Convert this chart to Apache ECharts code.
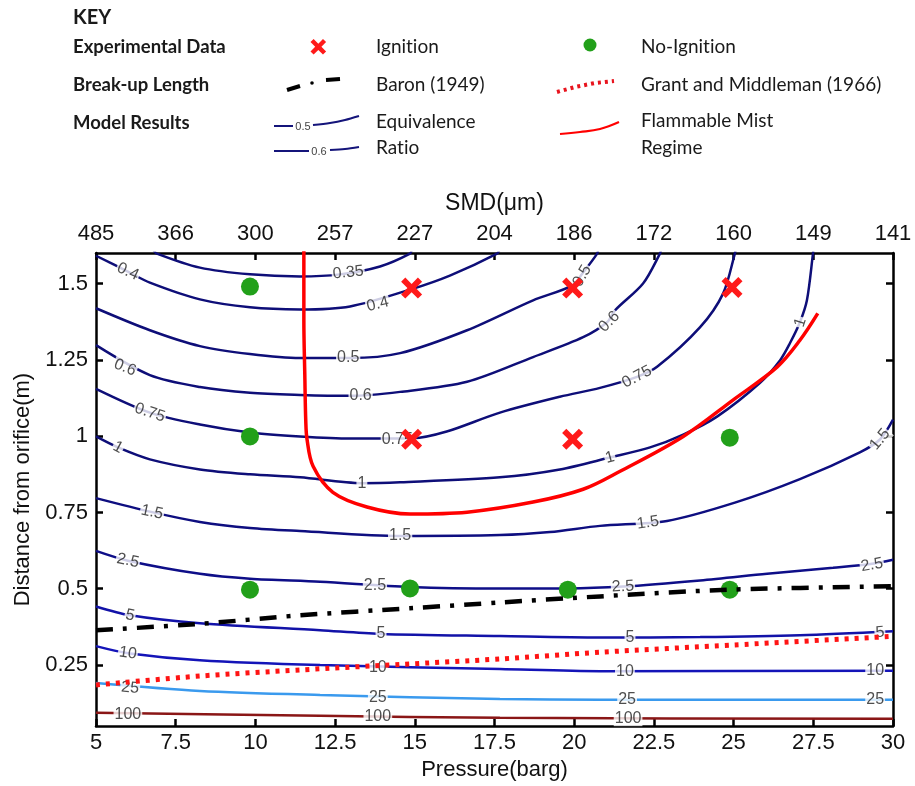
<!DOCTYPE html>
<html>
<head>
<meta charset="utf-8">
<script src="https://cdn.jsdelivr.net/npm/echarts@6/dist/echarts.min.js"></script>
<style>
html,body{margin:0;padding:0;background:#fff;}
#chart{width:915px;height:786px;}
</style>
</head>
<body>
<div id="chart"></div>
<script>
// ---------- DATA ----------
const smdLabels = ['485','366','300','257','227','204','186','172','160','149','141'];
const yTicks = [0.25, 0.5, 0.75, 1, 1.25, 1.5];

// Experimental data
const ignitionP = [14.9, 19.95, 24.95, 14.9, 19.95];
const ignitionD = [1.485, 1.485, 1.487, 0.99, 0.99];
const noIgnitionP = [9.83, 9.83, 24.88, 9.83, 14.85, 19.8, 24.88];
const noIgnitionD = [1.49, 0.999, 0.995, 0.497, 0.501, 0.497, 0.497];

// Break-up length curves
const baronP = [5, 8.26, 11.4, 14.85, 17.67, 20.81, 24.88, 30];
const baronD = [0.364, 0.385, 0.413, 0.436, 0.455, 0.475, 0.497, 0.508];
const grantP = [5, 8.26, 11.4, 14.54, 17.67, 20.81, 25.04, 30];
const grantD = [0.185, 0.214, 0.234, 0.252, 0.270, 0.292, 0.316, 0.344];

// Flammable mist regime boundary
const mistP = [11.52, 11.52, 11.55, 11.58, 11.62, 11.81, 12.43, 13.5, 14.85, 16.64, 18.71, 20.28, 21.44, 23.42, 24.99, 26.37, 27.08, 27.64];
const mistD = [1.61, 1.38, 1.2, 1.05, 0.989, 0.901, 0.816, 0.768, 0.745, 0.751, 0.784, 0.826, 0.885, 0.999, 1.119, 1.227, 1.314, 1.402];

// Equivalence ratio contours [pressure, distance]
const lvl0_35 = [[6.8,1.61],[6.91,1.598],[8.26,1.552],[9.83,1.530],[11.4,1.523],[12.65,1.530],[13.91,1.556],[14.85,1.598],[14.9,1.61]];
const lvl0_4 = [[5,1.591],[6.0,1.539],[6.69,1.503],[8.26,1.448],[9.83,1.422],[11.4,1.415],[12.97,1.425],[14.91,1.482],[16.1,1.526],[17.58,1.598],[17.65,1.61]];
const lvl0_5 = [[5,1.419],[6.69,1.347],[8.26,1.295],[9.83,1.269],[11.4,1.256],[12.97,1.256],[14.54,1.272],[16.64,1.347],[18.71,1.445],[19.93,1.493],[20.28,1.536],[20.72,1.598],[20.75,1.61]];
const lvl0_6 = [[5,1.298],[6.69,1.2],[8.26,1.161],[9.83,1.142],[11.4,1.135],[12.97,1.132],[14.54,1.145],[16.64,1.178],[18.71,1.259],[20.28,1.324],[21.03,1.373],[21.28,1.412],[22.16,1.5],[22.69,1.598],[22.72,1.61]];
const lvl0_75 = [[5,1.155],[6.69,1.077],[8.26,1.038],[9.83,1.012],[11.4,0.999],[12.97,0.992],[14.94,0.993],[16.0,1.015],[17.67,1.077],[19.55,1.129],[20.81,1.158],[21.97,1.194],[22.6,1.227],[23.95,1.357],[24.67,1.467],[25.04,1.598],[25.06,1.61]];
const lvl1 = [[5,0.999],[5.69,0.963],[6.69,0.924],[8.26,0.891],[9.83,0.875],[11.4,0.865],[13.34,0.846],[14.54,0.849],[17.67,0.865],[19.55,0.891],[21.12,0.93],[22.38,0.963],[23.42,1.005],[24.48,1.064],[25.83,1.175],[26.46,1.249],[26.77,1.305],[27.08,1.373],[27.3,1.445],[27.49,1.598],[27.5,1.61]];
const lvl1_5 = [[5,0.797],[6.76,0.751],[8.26,0.719],[9.83,0.699],[11.4,0.689],[14.54,0.673],[17.67,0.676],[19.24,0.686],[20.81,0.706],[22.91,0.722],[25.04,0.782],[27.08,0.859],[28.96,0.947],[29.59,0.989],[30,1.054]];
const lvl2_5 = [[5,0.624],[6.0,0.592],[8.26,0.549],[9.83,0.533],[12.03,0.523],[14.85,0.506],[17.67,0.501],[19.8,0.501],[21.53,0.507],[23.95,0.527],[26.05,0.549],[28.12,0.569],[29.34,0.582],[30,0.595]];
const lvl5 = [[5,0.442],[6.07,0.413],[8.26,0.387],[12.03,0.364],[13.91,0.352],[17.67,0.345],[20.81,0.34],[23.95,0.342],[27.08,0.348],[30,0.361]];
const lvl10 = [[5,0.312],[6.0,0.289],[8.26,0.266],[12.03,0.25],[17.67,0.237],[20.81,0.23],[30,0.231]];
const lvl25 = [[5,0.191],[8.26,0.165],[12.03,0.152],[17.67,0.139],[20.81,0.136],[30,0.136]];
const lvl100 = [[5,0.094],[12.03,0.084],[17.67,0.077],[30,0.074]];

// Contour labels [pressure, distance, rotation]
const lab0_35 = [[12.91,1.536,6]];
const lab0_4 = [[6.0,1.539,-25],[13.84,1.432,14]];
const lab0_5 = [[20.25,1.525,60],[12.91,1.256,0]];
const lab0_6 = [[5.91,1.225,-22],[13.3,1.132,0],[21.1,1.375,45]];
const lab0_75 = [[6.69,1.077,-18],[14.45,0.99,0],[21.97,1.194,28]];
const lab1 = [[5.69,0.963,-28],[13.34,0.846,0],[21.12,0.93,15],[27.1,1.373,72]];
const lab1_5 = [[6.76,0.751,-12],[14.54,0.673,0],[22.31,0.716,8],[29.59,0.989,50]];
const lab2_5 = [[6.0,0.592,-12],[13.75,0.51,0],[21.53,0.507,3],[29.34,0.578,10]];
const lab5 = [[6.07,0.413,-12],[13.94,0.352,0],[21.75,0.341,0],[29.59,0.357,5]];
const lab10 = [[6.0,0.289,-8],[13.84,0.243,0],[21.59,0.23,0],[29.44,0.231,0]];
const lab25 = [[6.07,0.175,-5],[13.84,0.145,0],[21.66,0.136,0],[29.44,0.136,0]];
const lab100 = [[6.0,0.087,0],[13.84,0.080,0],[21.69,0.076,0]];

const levelNames = ['0.35','0.4','0.5','0.6','0.75','1','1.5','2.5','5','10','25','100'];
const levelLines = [lvl0_35,lvl0_4,lvl0_5,lvl0_6,lvl0_75,lvl1,lvl1_5,lvl2_5,lvl5,lvl10,lvl25,lvl100];
const levelLabels = [lab0_35,lab0_4,lab0_5,lab0_6,lab0_75,lab1,lab1_5,lab2_5,lab5,lab10,lab25,lab100];
const levelColors = ['#0e0e78','#0e0e78','#0e0e78','#0e0e78','#0e0e78','#0e0e78','#0e0e80','#0e0e88','#1212a8','#1414b8','#3a9aee','#8a1616'];

// ---------- CHART ----------
const chart = echarts.init(document.getElementById('chart'), null, {renderer:'canvas'});
const axisFont = 'Liberation Sans, Arial, sans-serif';
const xCross = 'path://M0,4 L4,0 L10,6 L16,0 L20,4 L14,10 L20,16 L16,20 L10,14 L4,20 L0,16 L6,10 Z';
const crossPts = [[0,4],[4,0],[10,6],[16,0],[20,4],[14,10],[20,16],[16,20],[10,14],[4,20],[0,16],[6,10]];

const series = [];
levelLines.forEach((pts, i) => {
  series.push({
    type:'line', data: pts, showSymbol:false, symbol:'none', smooth:0.3,
    lineStyle:{color:levelColors[i], width:2.5}, silent:true, z:2, animation:false
  });
});
levelLabels.forEach((labs, i) => {
  series.push({
    type:'scatter', symbolSize:1, itemStyle:{color:'rgba(0,0,0,0)'}, silent:true, z:3,
    data: labs.map(l => ({
      value:[l[0], l[1]],
      label:{show:true, position:'inside', formatter: levelNames[i], rotate:l[2],
        color:'#222', fontFamily:axisFont, fontSize:16, backgroundColor:'#fff', padding:[0,1],
        textBorderWidth:0, textBorderColor:'transparent', textShadowBlur:0}
    }))
  });
});
series.push({
  type:'line', data: mistP.map((p,i)=>[p, mistD[i]]), showSymbol:false, symbol:'none', smooth:0.35,
  lineStyle:{color:'#ff0000', width:3.5}, z:4, silent:true
});
series.push({
  type:'scatter', data: ignitionP.map((p,i)=>[p, ignitionD[i]]), symbol:xCross, symbolSize:21,
  itemStyle:{color:'#ff1a1a', opacity:1}, z:6, silent:true
});
series.push({
  type:'scatter', data: noIgnitionP.map((p,i)=>[p, noIgnitionD[i]]), symbol:'circle', symbolSize:18,
  itemStyle:{color:'#22a01a', opacity:1}, z:6, silent:true
});
series.push({
  type:'line', data: grantP.map((p,i)=>[p, grantD[i]]), showSymbol:false, symbol:'none', smooth:0.3,
  lineStyle:{color:'#ff1414', width:5, type:[4,6], cap:'butt'}, z:5, silent:true
});
series.push({
  type:'line', data: baronP.map((p,i)=>[p, baronD[i]]), showSymbol:false, symbol:'none', smooth:0.3,
  lineStyle:{color:'#000', width:4.5, type:[17,10,4,10], cap:'butt'}, z:7, silent:true
});

const keyFont = 'Lato, "Open Sans", sans-serif';
function txt(x, y, s, bold, size){
  return {type:'text', x:x, y:y, silent:true,
    style:{text:s, fill:'#1a1a1a', font:(bold?'bold ':'')+(size||19)+'px '+keyFont, verticalAlign:'middle', align:'left'}};
}
const ZW = '\u200C';
const graphic = [
  txt(73, 18, 'KEY', true, 20),
  txt(73, 47, 'Experimental Data', true, 18.5),
  txt(73, 85, 'Break-up Length', true, 18.5),
  txt(73, 123, 'Model Results', true, 18.5),
  txt(376, 47, 'Ignit'+ZW+'ion'),
  txt(641, 47, 'No-Ignit'+ZW+'ion'),
  txt(376, 85, 'Baron (1949)'),
  txt(641, 85, 'Grant and Middleman (1966)'),
  txt(376, 122, 'Equivalence'),
  txt(376, 148, 'Rat'+ZW+'io'),
  txt(641, 121, 'Flammable Mist'),
  txt(641, 148, 'Regime'),
  {type:'polygon', silent:true, shape:{points: crossPts.map(p => [310.5 + p[0]*0.78, 39 + p[1]*0.78])},
    style:{fill:'#ff1a1a'}},
  {type:'circle', silent:true, shape:{cx:590, cy:45, r:6.5}, style:{fill:'#22a01a'}},
  {type:'line', silent:true, shape:{x1:287,y1:90,x2:300,y2:86}, style:{stroke:'#000', lineWidth:4}},
  {type:'circle', silent:true, shape:{cx:312, cy:83, r:1.8}, style:{fill:'#000'}},
  {type:'line', silent:true, shape:{x1:326,y1:80,x2:340,y2:79}, style:{stroke:'#000', lineWidth:4}},
  {type:'polyline', silent:true, shape:{points:[[557,92],[575,87],[595,83],[614,81]]},
    style:{stroke:'#e8141e', lineWidth:4, lineDash:[3,4], fill:null}},
  {type:'polyline', silent:true, shape:{points:[[560,134],[580,132],[600,129],[619,122]], smooth:0.4},
    style:{stroke:'#ff0000', lineWidth:2.2, fill:null}},
  {type:'line', silent:true, shape:{x1:274,y1:126,x2:293,y2:126}, style:{stroke:'#14147a', lineWidth:2}},
  {type:'polyline', silent:true, shape:{points:[[313,125],[330,123],[345,120],[359,116]], smooth:0.3},
    style:{stroke:'#14147a', lineWidth:2, fill:null}},
  {type:'text', silent:true, x:303, y:127, style:{text:'0.5', font:'11px '+axisFont, fill:'#444', align:'center', verticalAlign:'middle'}},
  {type:'line', silent:true, shape:{x1:274,y1:151,x2:309,y2:151}, style:{stroke:'#14147a', lineWidth:2}},
  {type:'polyline', silent:true, shape:{points:[[330,150],[345,149],[359,147]], smooth:0.3},
    style:{stroke:'#14147a', lineWidth:2, fill:null}},
  {type:'text', silent:true, x:319, y:152, style:{text:'0.6', font:'11px '+axisFont, fill:'#444', align:'center', verticalAlign:'middle'}}
];

const tickStyle = {show:true, inside:true, length:7, lineStyle:{color:'#000', width:2.5}};
const lineStyleAxis = {show:true, onZero:false, lineStyle:{color:'#000', width:2.5}};

const option = {
  animation:false,
  backgroundColor:'#fff',
  grid:{left:96, right:22, top:253, bottom:57, containLabel:false},
  xAxis:[
    {type:'value', position:'bottom', min:5, max:30, interval:2.5,
      axisLine:lineStyleAxis, axisTick:tickStyle, splitLine:{show:false},
      axisLabel:{color:'#111', fontSize:22, fontFamily:axisFont, margin:6, showMinLabel:true, showMaxLabel:true},
      name:'Pressure(barg)', nameLocation:'middle', nameGap:31,
      nameTextStyle:{color:'#111', fontSize:22, fontFamily:axisFont}},
    {type:'value', position:'top', min:5, max:30, interval:2.5,
      axisLine:lineStyleAxis, axisTick:tickStyle, splitLine:{show:false},
      axisLabel:{color:'#111', fontSize:22, fontFamily:axisFont, margin:8, showMinLabel:true, showMaxLabel:true,
        formatter: v => smdLabels[Math.round((v-5)/2.5)]},
      name:'SMD(μm)', nameLocation:'middle', nameGap:38,
      nameTextStyle:{color:'#111', fontSize:23, fontFamily:axisFont}}
  ],
  yAxis:[
    {type:'value', position:'left', min:0.05, max:1.6,
      axisLine:lineStyleAxis, splitLine:{show:false},
      axisTick:Object.assign({customValues:yTicks}, tickStyle),
      axisLabel:{customValues:yTicks, color:'#111', fontSize:22, fontFamily:axisFont, margin:8},
      name:'Distance from orifice(m)', nameLocation:'middle', nameGap:57, nameRotate:90,
      nameTextStyle:{color:'#111', fontSize:22, fontFamily:axisFont}},
    {type:'value', position:'right', min:0.05, max:1.6,
      axisLine:lineStyleAxis, splitLine:{show:false},
      axisTick:Object.assign({customValues:yTicks}, tickStyle),
      axisLabel:{show:false, customValues:yTicks}}
  ],
  graphic: graphic,
  series: series
};
chart.setOption(option);
</script>
</body>
</html>
